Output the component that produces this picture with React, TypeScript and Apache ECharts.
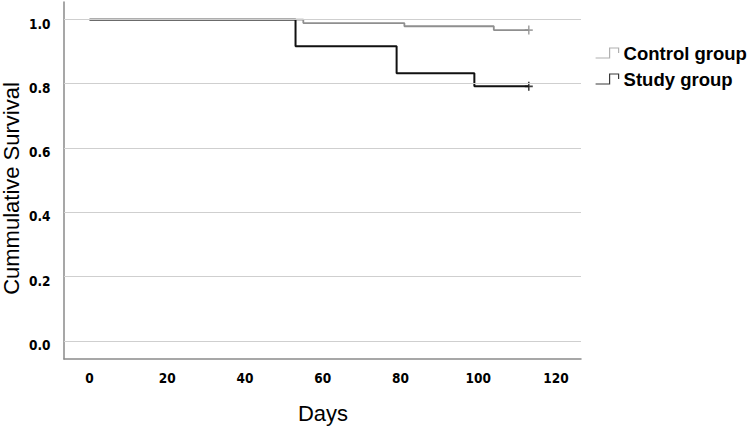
import React, { useEffect, useRef } from "react";
import * as echarts from "echarts";

// Kaplan–Meier step points [day, cumulative survival]
const studyGroup: [number, number][] = [
  [0, 1.0],
  [53, 0.917],
  [79, 0.833],
  [99, 0.792],
  [113, 0.792],
];
const controlGroup: [number, number][] = [
  [0, 1.0],
  [55, 0.989],
  [81, 0.979],
  [104, 0.967],
  [113, 0.967],
];
const studyCensored: [number, number][] = [[113, 0.792]];
const controlCensored: [number, number][] = [[113, 0.967]];
const gridValues = [0, 0.2, 0.4, 0.6, 0.8, 1.0];
const seriesNames = ["Control group", "Study group"];

const tickFont = "'DejaVu Sans Condensed', 'DejaVu Sans', sans-serif";
const titleFont = "'Liberation Sans', Arial, sans-serif";
const plusSymbol = "path://M0,4.1L9,4.1L9,5.9L0,5.9Z M3.6,0L5.4,0L5.4,10L3.6,10Z";

export default function App() {
  const ref = useRef<HTMLDivElement>(null);
  useEffect(() => {
    document.body.style.margin = "0";
    if (!ref.current) return;
    const chart = echarts.init(ref.current, undefined, { renderer: "svg" });
    const hiddenAxis = {
      axisLine: { show: false, onZero: false },
      axisTick: { show: false },
      splitLine: { show: false },
    };
    const option: any = {
      animation: false,
      backgroundColor: "#ffffff",
      grid: [
        // frame grid (axis lines + gridlines)
        { left: 64, right: 171, top: 2, bottom: 71 },
        // data grid (0..120 days, 0..1 survival)
        { left: 89.5, right: 196, top: 19.5, bottom: 89 },
        // survival tick labels (sit slightly below their gridlines)
        { left: 89.5, right: 196, top: 23.5, bottom: 85 },
      ],
      xAxis: [
        {
          gridIndex: 0,
          type: "value",
          min: -6.56,
          max: 126.4,
          axisLine: { show: true, onZero: false, lineStyle: { color: "#8a8a8a", width: 1.5 } },
          axisTick: { show: false },
          axisLabel: { show: false },
          splitLine: { show: false },
        },
        {
          gridIndex: 1,
          type: "value",
          min: 0,
          max: 120,
          interval: 20,
          ...hiddenAxis,
          axisLabel: {
            margin: 30,
            color: "#000",
            fontFamily: tickFont,
            fontWeight: "bold",
            fontSize: 13.5,
          },
        },
        {
          gridIndex: 2,
          type: "value",
          min: 0,
          max: 120,
          show: false,
        },
      ],
      yAxis: [
        {
          gridIndex: 0,
          type: "value",
          min: -0.056,
          max: 1.054,
          axisLine: { show: true, onZero: false, lineStyle: { color: "#8a8a8a", width: 1.5 } },
          axisTick: { show: false },
          axisLabel: { show: false },
          splitLine: { show: false },
        },
        {
          gridIndex: 1,
          type: "value",
          min: 0,
          max: 1,
          interval: 0.2,
          ...hiddenAxis,
          axisLabel: { show: false },
        },
        {
          gridIndex: 2,
          type: "value",
          min: 0,
          max: 1,
          interval: 0.2,
          ...hiddenAxis,
          axisLabel: {
            margin: 39,
            color: "#000",
            fontFamily: tickFont,
            fontWeight: "bold",
            fontSize: 13.5,
            formatter: (v: number) => v.toFixed(1),
          },
        },
      ],
      legend: {
        orient: "vertical",
        left: 595,
        top: 43,
        padding: 0,
        itemWidth: 23,
        itemHeight: 10,
        itemGap: 6,
        icon: "path://M0,10L14,10L14,0L23,0L23,5",
        selectedMode: false,
        textStyle: {
          color: "#000",
          fontFamily: titleFont,
          fontWeight: "bold",
          fontSize: 18.5,
          lineHeight: 20,
        },
        data: [
          {
            name: seriesNames[0],
            itemStyle: { color: "rgba(0,0,0,0)", borderColor: "#b0b0b0", borderWidth: 1.2 },
          },
          {
            name: seriesNames[1],
            itemStyle: { color: "rgba(0,0,0,0)", borderColor: "#3a3a3a", borderWidth: 1.2 },
          },
        ],
      },
      graphic: [
        {
          type: "text",
          x: 11,
          y: 188.5,
          rotation: Math.PI / 2,
          style: {
            text: "Cummulative Survival",
            fill: "#000",
            font: `22px ${titleFont}`,
            align: "center",
            verticalAlign: "middle",
          },
        },
        {
          type: "text",
          x: 323,
          y: 413,
          style: {
            text: "Days",
            fill: "#000",
            font: `22px ${titleFont}`,
            align: "center",
            verticalAlign: "middle",
          },
        },
      ],
      series: [
        {
          name: "grid",
          type: "line",
          xAxisIndex: 0,
          yAxisIndex: 0,
          data: [],
          silent: true,
          markLine: {
            silent: true,
            symbol: ["none", "none"],
            label: { show: false },
            lineStyle: { color: "#cfcfcf", width: 1.2, type: "solid" },
            data: gridValues.map((v) => ({ yAxis: v })),
          },
        },
        {
          name: seriesNames[0],
          type: "line",
          xAxisIndex: 1,
          yAxisIndex: 1,
          step: "end",
          data: controlGroup,
          symbol: "none",
          lineStyle: { color: "#8f8f8f", width: 1.8 },
          itemStyle: { color: "#8f8f8f" },
          z: 3,
        },
        {
          name: seriesNames[1],
          type: "line",
          xAxisIndex: 1,
          yAxisIndex: 1,
          step: "end",
          data: studyGroup,
          symbol: "none",
          lineStyle: { color: "#111111", width: 2 },
          itemStyle: { color: "#111111" },
          z: 4,
        },
        {
          name: "control-censored",
          type: "scatter",
          xAxisIndex: 1,
          yAxisIndex: 1,
          data: controlCensored,
          symbol: plusSymbol,
          symbolSize: [8, 9],
          itemStyle: { color: "#8f8f8f" },
          z: 3,
        },
        {
          name: "study-censored",
          type: "scatter",
          xAxisIndex: 1,
          yAxisIndex: 1,
          data: studyCensored,
          symbol: plusSymbol,
          symbolSize: [8, 9],
          itemStyle: { color: "#111111" },
          z: 4,
        },
      ],
    };
    chart.setOption(option);
    return () => chart.dispose();
  }, []);
  return <div ref={ref} style={{ width: 752, height: 430 }} />;
}
